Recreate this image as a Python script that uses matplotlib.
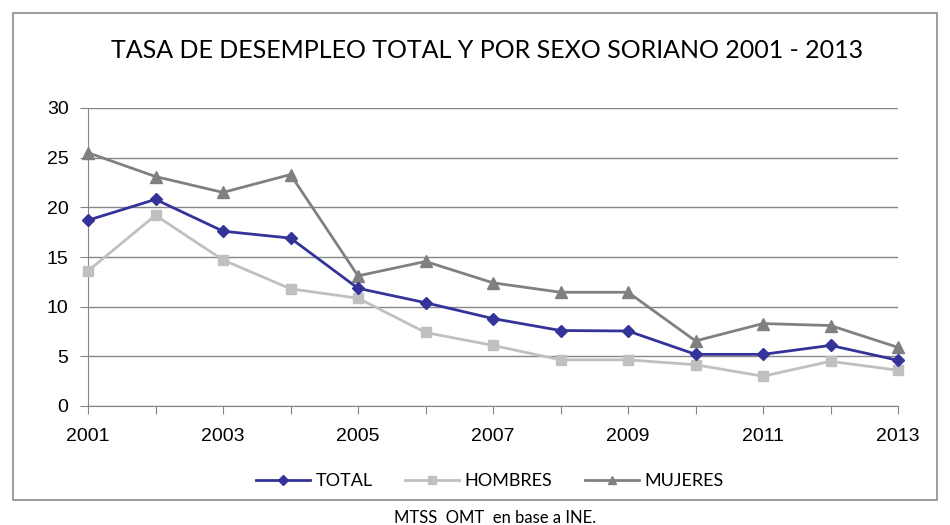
import numpy as np
import matplotlib.pyplot as plt
from matplotlib.patches import Rectangle

years = np.arange(2001, 2014)
total = [18.7, 20.8, 17.6, 16.9, 11.85, 10.4, 8.8, 7.6, 7.55, 5.2, 5.2, 6.1, 4.6]
hombres = [13.6, 19.2, 14.7, 11.8, 10.85, 7.4, 6.1, 4.65, 4.65, 4.15, 3.0, 4.5, 3.6]
mujeres = [25.5, 23.1, 21.5, 23.3, 13.1, 14.55, 12.4, 11.45, 11.45, 6.55, 8.3, 8.1, 5.9]

title = "TASA DE DESEMPLEO TOTAL Y POR SEXO SORIANO 2001 - 2013"
source = "MTSS  OMT  en base a INE."

W, H = 950, 525
fig = plt.figure(figsize=(9.5, 5.25), dpi=100)
ax = fig.add_axes([88 / W, 1 - 406 / H, (898 - 88) / W, (406 - 108) / H])

# outer chart border
fig.patches.append(Rectangle((13 / W, 1 - 500 / H), (937 - 13) / W, (500 - 13) / H,
                             transform=fig.transFigure, fill=False,
                             edgecolor='#8c8c8c', linewidth=1.2))

ax.plot(years, total, color='#333399', marker='D', markersize=6, linewidth=2,
        label='TOTAL', clip_on=False, zorder=5)
ax.plot(years, hombres, color='#c0c0c0', marker='s', markersize=7, linewidth=2,
        label='HOMBRES', clip_on=False, zorder=3)
ax.plot(years, mujeres, color='#808080', marker='^', markersize=8, linewidth=2,
        label='MUJERES', clip_on=False, zorder=4)

ax.set_xlim(2001, 2013)
ax.set_ylim(0, 30)
ax.set_yticks(range(0, 31, 5))
ax.set_xticks(years)
ax.set_xticklabels([str(y) if (y - 2001) % 2 == 0 else '' for y in years])
ax.grid(axis='y', color='#868686', linewidth=1)
ax.set_axisbelow(True)
for s in ['top', 'right']:
    ax.spines[s].set_visible(False)
for s in ['left', 'bottom']:
    ax.spines[s].set_color('#868686')
ax.tick_params(axis='both', colors='#868686', labelcolor='black', labelsize=14, length=6)
ax.tick_params(axis='x', pad=10)
ax.tick_params(axis='y', pad=8)
for lab in ax.get_xticklabels() + ax.get_yticklabels():
    lab.set_family('Liberation Sans')

fig.text(487 / W, 1 - 50 / H, title, ha='center', va='center', fontsize=18, family='Lato')
ax.legend(loc='center', bbox_to_anchor=(490 / W, 1 - 481 / H), bbox_transform=fig.transFigure,
          ncol=3, frameon=False, prop={'family': 'Lato', 'size': 13}, handlelength=3.0,
          columnspacing=1.8, handletextpad=0.3, markerscale=0.8)
fig.text(495 / W, 1 - 518 / H, source, ha='center', va='center', fontsize=12, family='Lato')

fig.savefig('out.png', dpi=100)
